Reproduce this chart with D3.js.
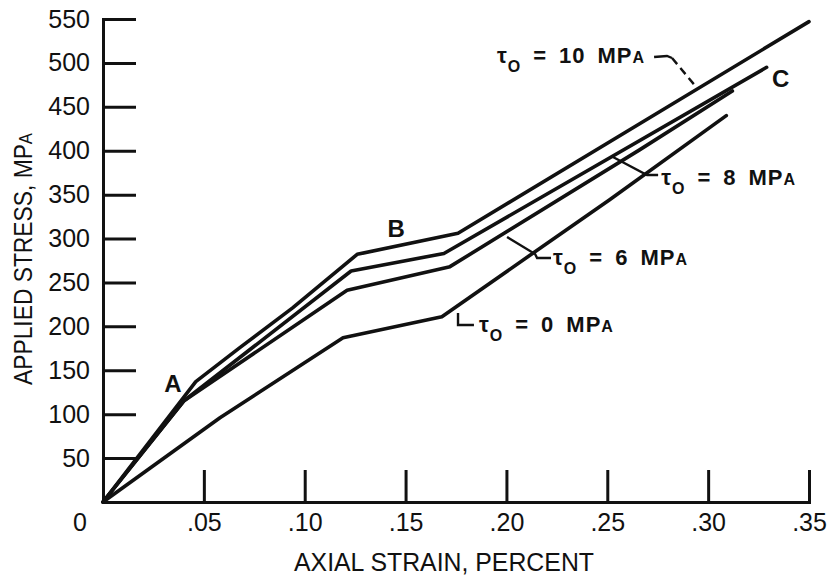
<!DOCTYPE html>
<html><head><meta charset="utf-8">
<script src="https://cdn.jsdelivr.net/npm/d3@7"></script>
<style>
body{margin:0;background:#fff;}
svg text{font-family:"Liberation Sans Narrow","Liberation Sans",Arial,sans-serif;fill:#111;}
</style></head><body>
<svg id="chart" width="832" height="577"></svg>
<script>
// ---- data ----
const strainTicks = [0.05, 0.10, 0.15, 0.20, 0.25, 0.30, 0.35];
const strainTickLabels = [".05", ".10", ".15", ".20", ".25", ".30", ".35"];
const stressTicks = [50, 100, 150, 200, 250, 300, 350, 400, 450, 500, 550];
const stressTickLabels = ["50", "100", "150", "200", "250", "300", "350", "400", "450", "500", "550"];
const originLabel = "0";

const seriesNames = ["10", "8", "6", "0"]; // tau_0, MPa
const strain10 = [0, 0.046, 0.068, 0.094, 0.126, 0.176, 0.350];
const stress10 = [0, 137, 176, 221, 282, 306, 547];
const strain8  = [0, 0.040, 0.123, 0.169, 0.329];
const stress8  = [0, 115, 263, 283, 495];
const strain6  = [0, 0.040, 0.121, 0.172, 0.266, 0.312];
const stress6  = [0, 115, 241, 268, 401, 468];
const strain0  = [0, 0.058, 0.119, 0.168, 0.251, 0.309];
const stress0  = [0, 96, 187, 211, 344, 440];

// point labels A, B, C (data coordinates)
const pointLetters = ["A", "B", "C"];
const pointStrain = [0.0347, 0.1453, 0.3317];
const pointStress = [125, 302, 473];

// series labels: anchor of the tau glyph (data coordinates)
const labelStrain = [0.1953, 0.2767, 0.2231, 0.1864];
const labelStress = [500, 361, 270, 193.6];
// leader lines (data coordinates)
const leader10 = [[0.2732, 506.7], [0.2796, 507.9], [0.2821, 505.6]];
const leader10Dash = [[0.2821, 505.6], [0.2945, 471.4]];
const leader8 = [[0.2528, 392.8], [0.2697, 372.4], [0.2752, 372.4]];
const leader6 = [[0.2003, 301.8], [0.2142, 282.4], [0.2152, 277.8], [0.2221, 277.8]];
const leader0 = [[0.1760, 215.2], [0.1760, 201.5], [0.1839, 201.5]];

const xTitle = "AXIAL STRAIN, PERCENT";
const yTitle = "APPLIED STRESS, MP";

// ---- drawing ----
const svg = d3.select("#chart");
const x = d3.scaleLinear().domain([0, 0.35]).range([103, 809]);
const y = d3.scaleLinear().domain([0, 550]).range([502, 19]);

const yAxis = svg.append("g").attr("transform", `translate(${x(0)},0)`)
  .call(d3.axisLeft(y).tickValues(stressTicks)
    .tickFormat((d, i) => stressTickLabels[i])
    .tickSize(-33).tickSizeOuter(0).tickPadding(13));
const xAxis = svg.append("g").attr("transform", `translate(0,${y(0)})`)
  .call(d3.axisBottom(x).tickValues(strainTicks)
    .tickFormat((d, i) => strainTickLabels[i])
    .tickSize(-32).tickSizeOuter(0).tickPadding(11));
[yAxis, xAxis].forEach(g => {
  g.select(".domain").attr("stroke", "#111").attr("stroke-width", 3).attr("stroke-linecap", "square");
  g.selectAll(".tick line").attr("stroke", "#111").attr("stroke-width", 3);
  g.selectAll(".tick text").attr("font-size", 25).attr("fill", "#111")
    .style("font-family", '"Liberation Sans Narrow","Liberation Sans",Arial,sans-serif');
});
svg.append("text").attr("x", x(0) - 16).attr("y", y(0) + 29)
  .attr("text-anchor", "end").attr("font-size", 25).text(originLabel);

// curves
const line = d3.line().x(d => x(d[0])).y(d => y(d[1]));
const series = [
  d3.zip(strain10, stress10),
  d3.zip(strain8, stress8),
  d3.zip(strain6, stress6),
  d3.zip(strain0, stress0)
];
svg.append("g").selectAll("path").data(series).join("path")
  .attr("d", line).attr("fill", "none").attr("stroke", "#111")
  .attr("stroke-width", 3.6).attr("stroke-linejoin", "round").attr("stroke-linecap", "round");

// leaders
const leaderLine = d3.line().x(d => x(d[0])).y(d => y(d[1]));
svg.append("g").selectAll("path").data([leader10, leader8, leader6, leader0]).join("path")
  .attr("d", leaderLine).attr("fill", "none").attr("stroke", "#111").attr("stroke-width", 2.4);
svg.append("path").attr("d", leaderLine(leader10Dash)).attr("fill", "none")
  .attr("stroke", "#111").attr("stroke-width", 2.4).attr("stroke-dasharray", "8,5");

// tau labels
seriesNames.forEach((v, i) => {
  const t = svg.append("text").attr("x", x(labelStrain[i])).attr("y", y(labelStress[i]))
    .attr("font-size", 22).attr("font-weight", "bold").attr("letter-spacing", 1);
  t.append("tspan").text("τ");
  t.append("tspan").attr("dy", 9).attr("font-size", 16).text("O");
  t.append("tspan").attr("dy", -9).text("\u2002=\u2002" + v + "\u2002MP");
  t.append("tspan").attr("font-size", 16).text("A");
});

// point letters
pointLetters.forEach((L, i) => {
  svg.append("text").attr("x", x(pointStrain[i])).attr("y", y(pointStress[i]))
    .attr("text-anchor", i === 2 ? "start" : "middle").attr("font-size", 24)
    .attr("font-weight", "bold").text(L);
});

// axis titles
svg.append("text").attr("x", 444).attr("y", 571).attr("text-anchor", "middle")
  .attr("font-size", 25).attr("textLength", 300).attr("lengthAdjust", "spacingAndGlyphs").text(xTitle);
const yt = svg.append("text").attr("transform", "translate(32,259) rotate(-90)")
  .attr("text-anchor", "middle").attr("font-size", 26)
  .attr("textLength", 252).attr("lengthAdjust", "spacingAndGlyphs");
yt.append("tspan").text(yTitle);
yt.append("tspan").attr("font-size", 19).text("A");
</script>
</body></html>
